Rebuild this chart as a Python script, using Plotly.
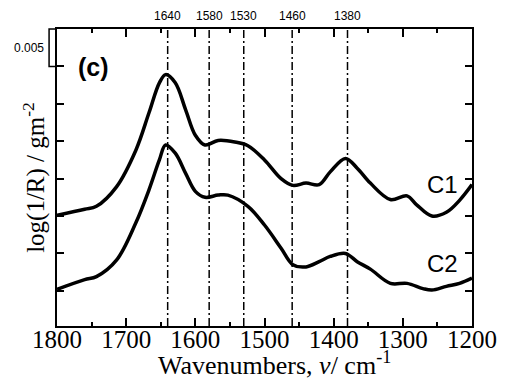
import plotly.graph_objects as go

# ---- data ----
wn_c1 = [1800, 1760, 1743, 1714, 1686, 1667, 1652, 1643, 1629, 1614, 1600, 1586, 1567, 1543, 1524,
         1500, 1476, 1459, 1440, 1421, 1405, 1383, 1366, 1347, 1318, 1294, 1280, 1258, 1237, 1218, 1200]
c1 = [0.0151, 0.0159, 0.0163, 0.0189, 0.0238, 0.0288, 0.0328, 0.0339, 0.0328, 0.0292, 0.0258, 0.0245,
      0.0251, 0.0249, 0.0244, 0.0225, 0.0200, 0.0191, 0.0194, 0.0192, 0.0209, 0.0227, 0.0214, 0.0194,
      0.0172, 0.0177, 0.0165, 0.0150, 0.0155, 0.0171, 0.0192]

wn_c2 = [1800, 1760, 1743, 1714, 1686, 1667, 1652, 1643, 1629, 1614, 1600, 1586, 1567, 1553, 1524,
         1500, 1476, 1459, 1440, 1421, 1405, 1383, 1366, 1347, 1318, 1294, 1271, 1258, 1237, 1218, 1200]
c2 = [0.0052, 0.0065, 0.0069, 0.0091, 0.0141, 0.0185, 0.0225, 0.0245, 0.0234, 0.0207, 0.0183, 0.0175,
      0.0178, 0.0178, 0.0163, 0.0138, 0.0107, 0.0085, 0.0082, 0.0089, 0.0096, 0.0100, 0.0089, 0.0079,
      0.0060, 0.0060, 0.0053, 0.0051, 0.0056, 0.0060, 0.0067]

series_names = ["C1", "C2"]
label_pos_wn = 1243
label_pos_y = [0.0192, 0.0087]

marker_wn = [1640, 1580, 1530, 1460, 1380]
x_ticks = [1800, 1700, 1600, 1500, 1400, 1300, 1200]
x_range = [1800, 1200]
y_range = [0.0003, 0.0400]
y_step = 0.005
scale_label = "0.005"

# the page body has an 8px margin, so the figure is 8px smaller
W, H = 501, 375
ML, MR, MT, MB = 49, 33, 21, 57

fig = go.Figure()
for wn, vals in [(wn_c1, c1), (wn_c2, c2)]:
    fig.add_trace(go.Scatter(x=wn, y=vals, mode="lines",
                             line=dict(color="black", width=3.5, shape="spline", smoothing=1.0),
                             showlegend=False, hoverinfo="skip"))

serif = "Liberation Serif, Times New Roman, serif"
sans = "Liberation Sans, Arial, sans-serif"

shapes = []
annotations = []
for w in marker_wn:
    shapes.append(dict(type="line", xref="x", yref="paper", x0=w, x1=w, y0=0, y1=1,
                       line=dict(color="black", width=1.5, dash="8px,3px,2px,3px")))
    annotations.append(dict(x=w, xref="x", y=1, yref="paper", yanchor="bottom", xanchor="center",
                            text=str(w), showarrow=False, yshift=4,
                            font=dict(family=sans, size=12, color="black")))

# scale bar (one y tick step) left of the plot
plot_w = W - ML - MR
bx = -8 / plot_w
ytop = 1.0
ybot = (y_range[1] - y_step - y_range[0]) / (y_range[1] - y_range[0])
shapes.append(dict(type="path", xref="paper", yref="paper",
                   path=f"M 0,{ytop} L {bx},{ytop} L {bx},{ybot} L 0,{ybot}",
                   line=dict(color="black", width=1.5)))
annotations.append(dict(x=bx, xref="paper", y=(ytop + ybot) / 2, yref="paper", xanchor="right",
                        yanchor="middle", text=scale_label, showarrow=False, xshift=-3,
                        font=dict(family=sans, size=12, color="black")))

annotations.append(dict(x=0.088, xref="paper", y=0.872, yref="paper", text="<b>(c)</b>",
                        showarrow=False, xanchor="center", yanchor="middle",
                        font=dict(family=sans, size=25, color="black")))
for name, yv in zip(series_names, label_pos_y):
    annotations.append(dict(x=label_pos_wn, xref="x", y=yv, yref="y", text=name, showarrow=False,
                            xanchor="center", yanchor="middle",
                            font=dict(family=sans, size=24, color="black")))

# x axis title as annotation for precise placement
annotations.append(dict(x=0.5, xref="paper", y=0, yref="paper", yanchor="middle", xanchor="center",
                        yshift=-37, xshift=10, showarrow=False,
                        text="Wavenumbers, <i>ν</i>/ cm<sup>-1</sup>",
                        font=dict(family=serif, size=26, color="black")))

fig.update_layout(
    width=W, height=H,
    margin=dict(l=ML, r=MR, t=MT, b=MB),
    paper_bgcolor="white", plot_bgcolor="white",
    shapes=shapes, annotations=annotations,
    xaxis=dict(range=x_range, tickvals=x_ticks, ticktext=[str(t) for t in x_ticks],
               ticks="inside", ticklen=8, tickwidth=1.5, tickcolor="black",
               minor=dict(dtick=50, tick0=1200, ticks="inside", ticklen=4, tickwidth=1.5, tickcolor="black"),
               showline=True, linecolor="black", linewidth=2, mirror="ticks",
               showgrid=False, zeroline=False, ticklabelstandoff=-10,
               tickfont=dict(family=serif, size=25, color="black")),
    yaxis=dict(range=y_range, dtick=y_step, tick0=0, ticks="inside", ticklen=7, tickwidth=1.5,
               tickcolor="black", showticklabels=False,
               showline=True, linecolor="black", linewidth=2, mirror="ticks",
               showgrid=False, zeroline=False,
               title=dict(text="log(1/R) / gm<sup>-2</sup>",
                          font=dict(family=serif, size=25, color="black"), standoff=3)),
)

fig.write_html("out.html")
